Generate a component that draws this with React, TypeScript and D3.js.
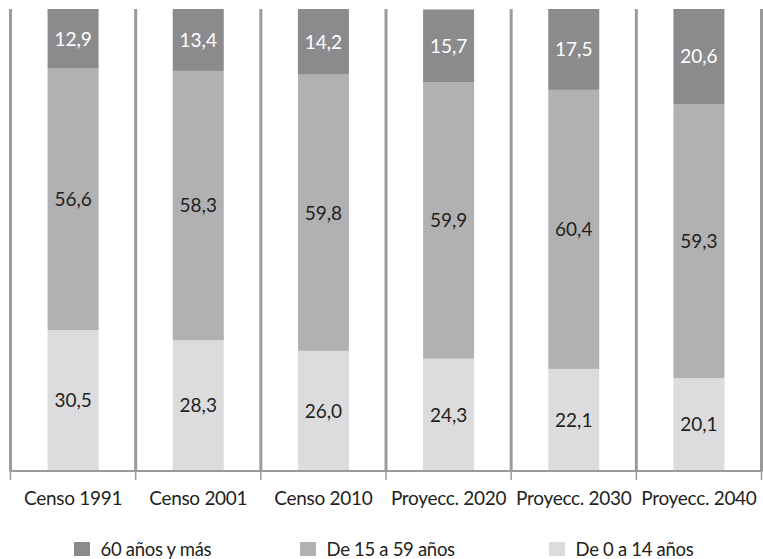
import React from "react";
import * as d3 from "d3";

const categories = ["Censo 1991", "Censo 2001", "Censo 2010", "Proyecc. 2020", "Proyecc. 2030", "Proyecc. 2040"];
const seriesNames = ["De 0 a 14 años", "De 15 a 59 años", "60 años y más"];
const age0to14 = [30.5, 28.3, 26.0, 24.3, 22.1, 20.1];
const age15to59 = [56.6, 58.3, 59.8, 59.9, 60.4, 59.3];
const age60plus = [12.9, 13.4, 14.2, 15.7, 17.5, 20.6];
const legendOrder = ["60 años y más", "De 15 a 59 años", "De 0 a 14 años"];

const colors: Record<string, string> = {
  "De 0 a 14 años": "#dcdcde",
  "De 15 a 59 años": "#b1b1b4",
  "60 años y más": "#8b8b8e",
};
const textColors: Record<string, string> = {
  "De 0 a 14 años": "#231f20",
  "De 15 a 59 años": "#231f20",
  "60 años y más": "#ffffff",
};

const W = 763, H = 559;
const left = 10.5, right = 761.5, top = 9, bottom = 471;
const font = "Lato, 'Open Sans', sans-serif";

export default function App() {
  const rows = categories.map((c, i) => ({
    cat: c,
    "De 0 a 14 años": age0to14[i],
    "De 15 a 59 años": age15to59[i],
    "60 años y más": age60plus[i],
  }));
  const stack = d3.stack<any>().keys(seriesNames);
  const layers = stack(rows);
  const x = d3.scaleBand<string>().domain(categories).range([left, right]).paddingInner(0).paddingOuter(0);
  const y = d3.scaleLinear().domain([0, 100]).range([bottom, top]);
  const bw = 51;
  const fmt = (v: number) => v.toFixed(1).replace(".", ",");
  const seps = d3.range(categories.length + 1).map((i) => left + i * x.step());
  const legendX = [74, 300, 549];

  return (
    <svg width={W} height={H} style={{ position: "absolute", left: 0, top: 0, background: "#fff" }}>
      {layers.map((layer) => (
        <g key={layer.key}>
          {layer.map((d, i) => {
            const cx = x(categories[i])! + x.bandwidth() / 2;
            const y0 = y(d[1]);
            const y1 = y(Math.min(d[0], 100));
            const v = rows[i][layer.key as keyof (typeof rows)[0]] as number;
            return (
              <g key={i}>
                <rect x={cx - bw / 2} y={y0} width={bw} height={Math.min(y1, bottom) - y0} fill={colors[layer.key]} />
                <text x={cx} y={(y0 + Math.min(y1, bottom)) / 2} dy="0.36em" textAnchor="middle"
                  fontFamily={font} fontSize={19} fill={textColors[layer.key]}>{fmt(v)}</text>
              </g>
            );
          })}
        </g>
      ))}
      {seps.map((sx, i) => (
        <g key={i}>
          <line x1={sx} x2={sx} y1={top} y2={bottom} stroke="#9a9a9d" strokeWidth={3} />
          <line x1={sx} x2={sx} y1={bottom} y2={480} stroke="#9a9a9d" strokeWidth={1.5} />
        </g>
      ))}
      <line x1={left - 1} x2={right + 1} y1={bottom} y2={bottom} stroke="#9a9a9d" strokeWidth={2} />
      {categories.map((c) => (
        <text key={c} x={x(c)! + x.bandwidth() / 2} y={505} textAnchor="middle" fontFamily={font}
          fontSize={19} fill="#231f20" letterSpacing={-0.3}>{c}</text>
      ))}
      {legendOrder.map((k, i) => (
        <g key={k}>
          <rect x={legendX[i]} y={542} width={16} height={14} fill={colors[k]} />
          <text x={legendX[i] + 26.5} y={556} fontFamily={font} fontSize={18.5} fill="#231f20" letterSpacing={-0.3}>{k}</text>
        </g>
      ))}
    </svg>
  );
}
